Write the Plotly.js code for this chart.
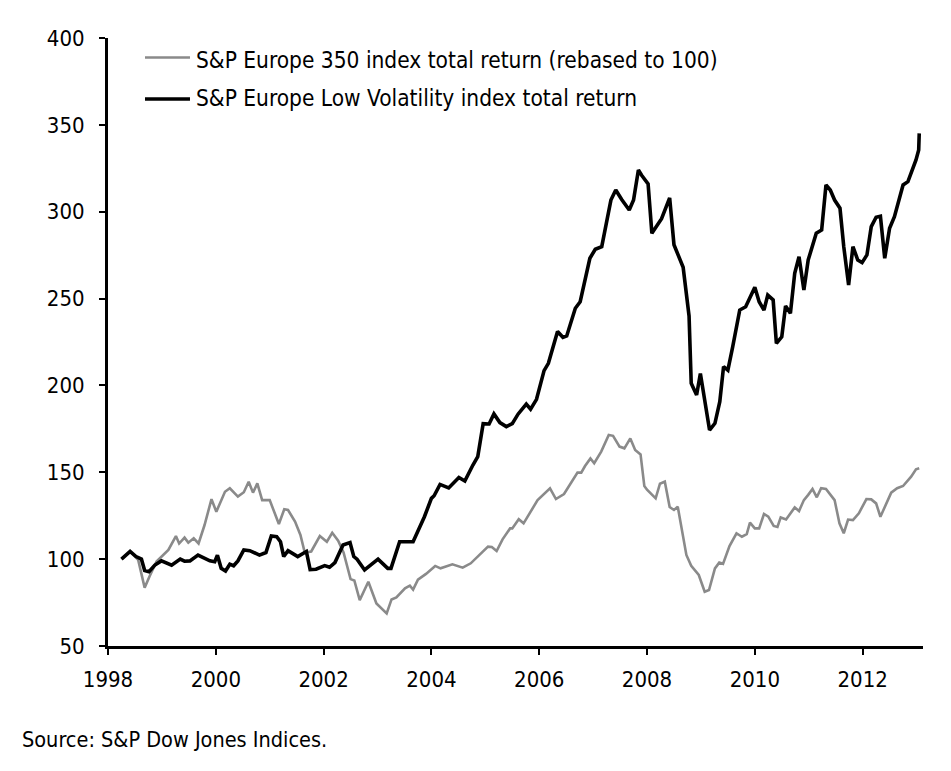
<!DOCTYPE html>
<html>
<head>
<meta charset="utf-8">
<script src="https://cdn.plot.ly/plotly-3.0.1.min.js"></script>
<style>
  html, body { margin: 0; padding: 0; background: #fff; }
  #chart { width: 951px; height: 771px; }
</style>
</head>
<body>
<div id="chart"></div>
<script>
// readings, decimal years
const europe350Years = [
  1998.25, 1998.41, 1998.56, 1998.68, 1998.77, 1998.90, 1999.12, 1999.26, 1999.32, 1999.42,
  1999.49, 1999.59, 1999.68, 1999.79, 1999.92, 2000.01, 2000.17, 2000.26, 2000.41, 2000.52,
  2000.61, 2000.69, 2000.77, 2000.86, 2001.00, 2001.17, 2001.27, 2001.34, 2001.47, 2001.57,
  2001.65, 2001.77, 2001.93, 2002.06, 2002.16, 2002.27, 2002.37, 2002.50, 2002.57, 2002.67,
  2002.83, 2002.98, 2003.17, 2003.26, 2003.35, 2003.51, 2003.60, 2003.66, 2003.75, 2003.90,
  2004.07, 2004.17, 2004.39, 2004.58, 2004.73, 2004.92, 2005.05, 2005.12, 2005.21, 2005.32,
  2005.46, 2005.50, 2005.62, 2005.71, 2005.97, 2006.20, 2006.31, 2006.46, 2006.71, 2006.78,
  2006.85, 2006.95, 2007.02, 2007.15, 2007.29, 2007.37, 2007.49, 2007.58, 2007.69, 2007.78,
  2007.88, 2007.95, 2008.00, 2008.16, 2008.24, 2008.33, 2008.42, 2008.50, 2008.57, 2008.73,
  2008.82, 2008.96, 2009.07, 2009.15, 2009.26, 2009.34, 2009.41, 2009.53, 2009.66, 2009.76,
  2009.85, 2009.91, 2010.00, 2010.08, 2010.17, 2010.25, 2010.35, 2010.42, 2010.48, 2010.58,
  2010.68, 2010.74, 2010.82, 2010.91, 2010.99, 2011.07, 2011.15, 2011.23, 2011.32, 2011.48,
  2011.57, 2011.65, 2011.73, 2011.82, 2011.93, 2012.07, 2012.16, 2012.25, 2012.33, 2012.41,
  2012.53, 2012.64, 2012.75, 2012.90, 2012.99, 2013.05
];
const europe350Values = [
  100, 104.4, 99.6, 83.6, 90, 98.6, 105.3, 113.3, 109, 112.4,
  109.5, 112, 109, 119.5, 134.5, 127.3, 138.8, 140.8, 136, 138.5,
  144.6, 138.3, 143.6, 134, 134, 120.2, 128.7, 128.3, 121.6, 113.9,
  103.8, 104.4, 113.3, 110, 115.2, 110.6, 103.8, 88.5, 87.7, 76.4,
  87, 74.5, 68.8, 76.8, 78, 83.2, 84.7, 82.5, 88.2, 91.5,
  96.1, 94.7, 97, 95.1, 97.6, 103.3, 107.2, 107, 104.7, 111.4,
  117.7, 117.7, 123, 120.6, 134, 140.8, 134.6, 137.5, 149.8, 149.8,
  153.6, 158, 155.2, 161.9, 171.5, 171, 164.8, 163.8, 169.5, 162.8,
  160.3, 142.1, 140, 135, 143.4, 144.6, 130, 128.3, 130.2, 102.4,
  96.2, 90.9, 81.2, 82.2, 94.7, 98, 97.3, 107.5, 114.9, 112.9,
  114.4, 121, 117.7, 117.7, 126, 124.5, 119.1, 118.5, 124, 122.8,
  127.3, 129.8, 127.7, 134, 137, 140.4, 135.6, 140.8, 140.4, 134,
  120.6, 114.9, 122.8, 122.5, 126.4, 134.6, 134.4, 132.1, 124.4, 130.2,
  138.3, 140.8, 142.1, 147.5, 151.7, 152.3
];

const lowVolYears = [
  1998.25, 1998.41, 1998.52, 1998.62, 1998.68, 1998.76, 1998.87, 1998.99, 1999.18, 1999.34,
  1999.42, 1999.52, 1999.67, 1999.89, 1999.98, 2000.03, 2000.10, 2000.18, 2000.26, 2000.33,
  2000.41, 2000.52, 2000.63, 2000.81, 2000.93, 2001.03, 2001.13, 2001.20, 2001.26, 2001.34,
  2001.52, 2001.68, 2001.75, 2001.86, 2002.02, 2002.11, 2002.21, 2002.36, 2002.49, 2002.56,
  2002.62, 2002.76, 2003.01, 2003.19, 2003.25, 2003.41, 2003.66, 2003.87, 2004.00, 2004.05,
  2004.16, 2004.32, 2004.51, 2004.62, 2004.77, 2004.86, 2004.96, 2005.07, 2005.16, 2005.27,
  2005.39, 2005.50, 2005.61, 2005.76, 2005.84, 2005.95, 2006.09, 2006.17, 2006.34, 2006.44,
  2006.51, 2006.67, 2006.76, 2006.94, 2007.04, 2007.16, 2007.33, 2007.42, 2007.53, 2007.67,
  2007.75, 2007.84, 2007.90, 2008.02, 2008.09, 2008.27, 2008.42, 2008.50, 2008.67, 2008.78,
  2008.82, 2008.92, 2008.99, 2009.07, 2009.16, 2009.26, 2009.35, 2009.42, 2009.50, 2009.59,
  2009.72, 2009.83, 2010.00, 2010.08, 2010.17, 2010.24, 2010.34, 2010.40, 2010.50, 2010.57,
  2010.66, 2010.74, 2010.82, 2010.91, 2010.99, 2011.14, 2011.24, 2011.32, 2011.40, 2011.48,
  2011.58, 2011.65, 2011.74, 2011.82, 2011.91, 2011.99, 2012.08, 2012.16, 2012.25, 2012.33,
  2012.41, 2012.50, 2012.59, 2012.75, 2012.84, 2012.99, 2013.04, 2013.05
];
const lowVolValues = [
  100, 104.4, 101.5, 100, 93.4, 92.8, 96.6, 99, 96.5, 100,
  98.8, 99, 102.3, 99, 98.5, 102.3, 94.7, 93.2, 97.1, 96.2,
  99, 105.3, 104.9, 102.3, 103.8, 113.3, 112.9, 110, 101.5, 104.9,
  101.5, 104.4, 94, 94.2, 96.3, 95.3, 98, 108.1, 109.5, 101.5,
  100, 93.8, 100, 94.7, 94.7, 110, 110, 124.4, 135, 136.5,
  143, 141, 147, 145, 154.2, 159, 178, 177.8, 183.6, 178.6,
  176.3, 178, 183.6, 189.3, 186.3, 192, 208.5, 212.7, 231, 227.7,
  228.5, 244.4, 248.2, 273.2, 278.4, 279.9, 306.7, 312.5, 307, 301,
  306.7, 324, 321, 316, 287.6, 296, 308, 281, 268, 240,
  201.2, 194.5, 206.9, 191.6, 174.3, 178.2, 190.6, 210.8, 208.8, 222.3,
  243.4, 245.3, 256.5, 248.2, 243.4, 252, 249.2, 224.2, 228, 245.7,
  241.5, 264.5, 274.1, 254.9, 272.2, 287.6, 289.5, 315.4, 312.5, 306.7,
  302, 279.9, 257.8, 279.9, 272.2, 270.7, 275.1, 291.4, 296.8, 297.4,
  273.2, 290.5, 297.1, 315.4, 317.3, 329.8, 335.5, 345.1
];

const seriesNames = [
  'S&P Europe 350 index total return (rebased to 100)',
  'S&P Europe Low Volatility index total return'
];
const xTickVals = [1998, 2000, 2002, 2004, 2006, 2008, 2010, 2012];
const yTickVals = [50, 100, 150, 200, 250, 300, 350, 400];
const sourceNote = 'Source: S&P Dow Jones Indices.';

const FONT = '"Liberation Sans Narrow", "DejaVu Sans Condensed", "Open Sans", sans-serif';
const GRAY = '#8a8a8a';
const BLACK = '#000000';

var data = [
  {
    x: europe350Years,
    y: europe350Values,
    mode: 'lines',
    name: seriesNames[0],
    line: { color: GRAY, width: 2.6 },
  },
  {
    x: lowVolYears,
    y: lowVolValues,
    mode: 'lines',
    name: seriesNames[1],
    line: { color: BLACK, width: 3.6 },
  }
];

// legend drawn by hand so the sample lines and spacing follow the original
var legendShapes = [
  { type: 'line', xref: 'paper', yref: 'paper', x0: 0.0454, x1: 0.1006, y0: 0.968, y1: 0.968,
    line: { color: GRAY, width: 2.5 } },
  { type: 'line', xref: 'paper', yref: 'paper', x0: 0.0454, x1: 0.1006, y0: 0.8997, y1: 0.8997,
    line: { color: BLACK, width: 3.5 } },
];

var annotations = [
  { text: seriesNames[0], xref: 'paper', yref: 'paper', x: 0.106, y: 0.9638,
    xanchor: 'left', yanchor: 'middle', showarrow: false,
    font: { family: FONT, size: 22.5, color: '#000' } },
  { text: seriesNames[1], xref: 'paper', yref: 'paper', x: 0.106, y: 0.9005,
    xanchor: 'left', yanchor: 'middle', showarrow: false,
    font: { family: FONT, size: 22.5, color: '#000' } },
  { text: sourceNote, xref: 'paper', yref: 'paper', x: -0.108, y: -0.1535,
    xanchor: 'left', yanchor: 'middle', showarrow: false,
    font: { family: FONT, size: 21.5, color: '#000' } },
];

var layout = {
  width: 951,
  height: 771,
  paper_bgcolor: '#fff',
  plot_bgcolor: '#fff',
  font: { family: FONT, size: 22, color: '#000' },
  margin: { l: 108, r: 28, t: 38, b: 125, pad: 0 },
  showlegend: false,
  xaxis: {
    range: [1998, 2013.12],
    tickmode: 'array',
    tickvals: xTickVals,
    ticktext: xTickVals.map(String),
    showgrid: false,
    zeroline: false,
    showline: true,
    linecolor: '#000',
    linewidth: 3,
    ticks: 'outside',
    ticklen: 6,
    tickwidth: 2,
    tickcolor: '#000',
    ticklabelstandoff: 6,
    tickfont: { family: FONT, size: 22, color: '#000' },
  },
  yaxis: {
    range: [50, 400],
    tickmode: 'array',
    tickvals: yTickVals,
    showgrid: false,
    zeroline: false,
    showline: true,
    linecolor: '#000',
    linewidth: 3,
    ticks: 'outside',
    ticklen: 6,
    tickwidth: 2,
    tickcolor: '#000',
    ticklabelstandoff: 10,
    tickfont: { family: FONT, size: 22, color: '#000' },
  },
  shapes: legendShapes,
  annotations: annotations
};

var config = {
  staticPlot: true,
  displayModeBar: false
};

Plotly.newPlot('chart', data, layout, config);
</script>
</body>
</html>
